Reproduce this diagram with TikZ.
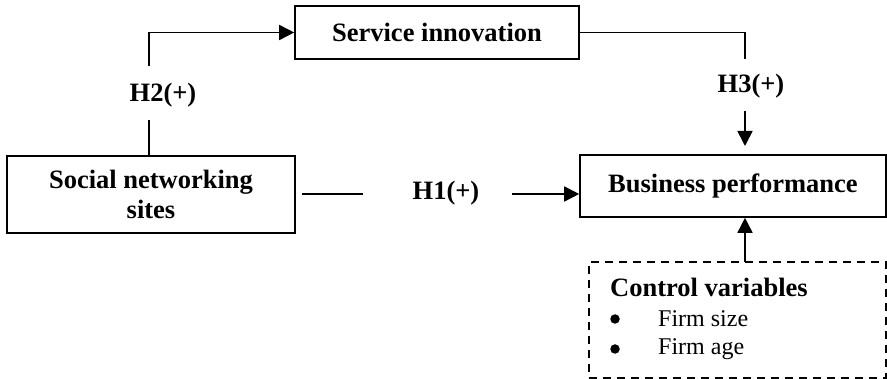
\documentclass[tikz,border=0pt]{standalone}
\usepackage{fontspec}
\setmainfont{Liberation Serif}
\usetikzlibrary{arrows.meta}

\tikzset{
  boxnode/.style={draw, line width=1.6pt, rectangle, inner sep=0pt, align=center,
                  font=\fontsize{26.5}{30}\selectfont\bfseries},
  ctrlbox/.style={draw, line width=1.6pt, dash pattern=on 8pt off 6pt, rectangle, inner sep=0pt},
  hlabel/.style={inner sep=0pt, font=\fontsize{26.5}{30}\selectfont\bfseries},
  plaintext/.style={inner sep=0pt, anchor=base west, font=\fontsize{24}{28}\selectfont},
  bulletdot/.style={circle, fill, inner sep=0pt, minimum size=9.5pt},
  boldtext/.style={inner sep=0pt, anchor=base west, font=\fontsize{26.5}{30}\selectfont\bfseries},
  link/.style={line width=1.6pt},
  arrowlink/.style={line width=1.6pt, -{Triangle[length=15pt,width=15pt]}}
}

\begin{document}
\begin{tikzpicture}[x=1pt,y=-1pt]
\useasboundingbox (0,0) rectangle (887,379);

% boxes
\node[boxnode, minimum width=284pt, minimum height=53pt] (si) at (437,32.5) {Service innovation};
\node[boxnode, minimum width=288pt, minimum height=77pt] (sn) at (151,194.5) {Social networking\\sites};
\node[boxnode, minimum width=306pt, minimum height=62pt] (bp) at (733,186) {Business performance};
\node[ctrlbox, minimum width=297pt, minimum height=116pt] (cv) at (737.5,320) {};

% control variables list
\node[boldtext] (cvtitle) at (610,297) {Control variables};
\node[bulletdot] (b1) at (615,319) {};
\node[plaintext] (fs) at (658,327) {Firm size};
\node[bulletdot] (b2) at (615,349) {};
\node[plaintext] (fa) at (658,355) {Firm age};

% hypothesis labels
\node[hlabel] (h2) at (163,95) {H2(+)};
\node[hlabel] (h3) at (751,86) {H3(+)};
\node[hlabel] (h1) at (446,193) {H1(+)};

% H2: social networking sites -> service innovation
\coordinate (h2low) at (149,120);
\coordinate (h2high) at (149,66);
\coordinate (h2bend) at (149,32.5);
\draw[link] (sn.north -| h2low) -- (h2low);
\draw[arrowlink] (h2high) -- (h2bend) -- (si.west);

% H3: service innovation -> business performance
\coordinate (h3bend) at (745,32.5);
\coordinate (h3high) at (745,59);
\coordinate (h3low) at (745,111);
\coordinate (h3tip) at (745,146);
\draw[link] (si.east) -- (h3bend) -- (h3high);
\draw[arrowlink] (h3low) -- (h3tip);

% H1: social networking sites -> business performance
\coordinate (h1a) at (302,194);
\coordinate (h1b) at (363,194);
\coordinate (h1c) at (512,194);
\draw[link] (h1a) -- (h1b);
\draw[arrowlink] (h1c) -- (bp.west |- h1c);

% control variables -> business performance
\coordinate (cvtop) at (745,262);
\draw[arrowlink] (cvtop) -- (bp.south -| cvtop);
\end{tikzpicture}
\end{document}
